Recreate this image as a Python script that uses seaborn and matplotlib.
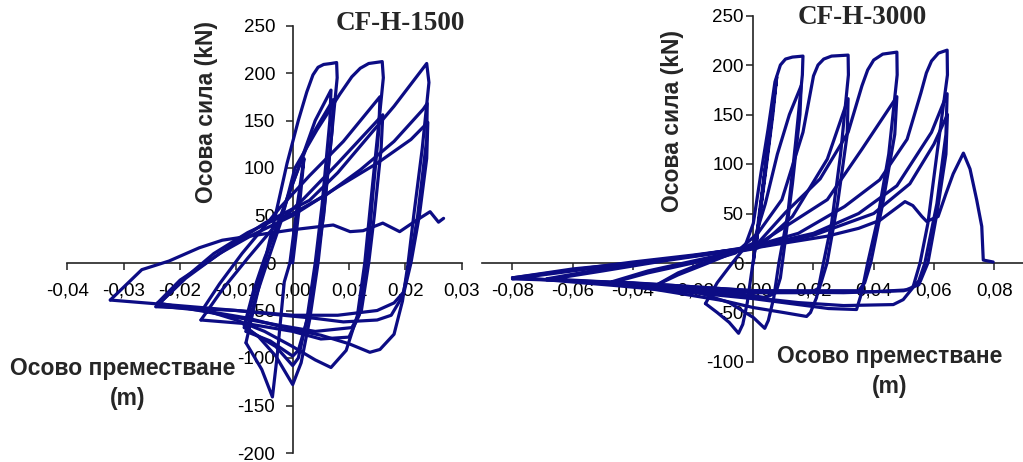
import numpy as np
import pandas as pd
import matplotlib
matplotlib.use("Agg")
import matplotlib.pyplot as plt
import seaborn as sns

# ---------------- CF-H-1500 (displacement m, force kN), cycle by cycle ----------------
a0_x = [0.0, 0.0012, 0.0020, 0.0008, -0.0005, -0.0015, -0.0028, -0.0036, -0.0055, -0.0083]
a0_y = [0, 60, 110, 60, 0, -20, -100, -141, -112, -84]
a1_x = [-0.0083, -0.0070, -0.0050, -0.0030, -0.0010, 0.0010, 0.0025, 0.0036, 0.0045, 0.0055, 0.0068, 0.0078,
        0.0079, 0.0070, 0.0058, 0.0045, 0.0030, 0.0015, 0.0, -0.0030, -0.0060, -0.0086]
a1_y = [-84, -50, 0, 52, 105, 150, 180, 198, 206, 209, 210, 211,
        195, 140, 70, 0, -60, -105, -128, -98, -78, -66]
a2_x = [-0.0086, -0.0070, -0.0050, -0.0020, 0.0010, 0.0040, 0.0068, 0.0066, 0.0052, 0.0040, 0.0025, 0.0010, 0.0,
        -0.0030, -0.0086]
a2_y = [-66, -30, 5, 50, 100, 150, 182, 150, 60, 0, -60, -100, -108, -88, -68]
a3_x = [-0.0086, -0.0065, -0.0040, -0.0005, 0.0030, 0.0072, 0.0070, 0.0055, 0.0042, 0.0028, 0.0010, 0.0,
        -0.0040, -0.0083]
a3_y = [-68, -25, 20, 76, 130, 172, 140, 50, 0, -55, -92, -98, -82, -72]
a4_x = [-0.0083, -0.0065, -0.0040, -0.0020, 0.0004, 0.0043, 0.0084, 0.0105, 0.0120, 0.0135, 0.0159, 0.0161,
        0.0150, 0.0138, 0.0128, 0.0115, 0.0095, 0.0068, 0.0040, 0.0, -0.0050, -0.0100, -0.0160]
a4_y = [-72, -35, 10, 45, 100, 140, 178, 196, 205, 210, 212, 195, 130,
        60, 0, -55, -92, -110, -102, -88, -72, -60, -49]
a5_x = [-0.0160, -0.0130, -0.0090, -0.0055, -0.0023, 0.0030, 0.0090, 0.0155, 0.0153, 0.0142, 0.0132, 0.0118,
        0.0100, 0.0050, 0.0, -0.0080, -0.0163]
a5_y = [-49, -22, 10, 35, 58, 92, 128, 175, 140, 70, 0, -55, -78, -80, -72, -64, -60]
a6_x = [-0.0163, -0.0125, -0.0080, -0.0030, 0.0020, 0.0080, 0.0160, 0.0157, 0.0145, 0.0135, 0.0122, 0.0105,
        0.0040, -0.0020, -0.0120, -0.0240]
a6_y = [-60, -28, 5, 40, 68, 105, 156, 120, 50, 0, -50, -68, -72, -66, -55, -42]
a7_x = [-0.0240, -0.0200, -0.0154, -0.0100, -0.0050, 0.0, 0.0030, 0.0080, 0.0130, 0.0180, 0.0238, 0.0242,
        0.0230, 0.0215, 0.0205, 0.0195, 0.0180, 0.0155, 0.0137, 0.0100, 0.0050, 0.0, -0.0080, -0.0160, -0.0241]
a7_y = [-42, -18, 0, 22, 42, 57, 66, 95, 130, 165, 210, 190,
        120, 50, 0, -40, -75, -91, -94, -85, -76, -70, -58, -50, -45]
a8_x = [-0.0241, -0.0190, -0.0140, -0.0080, -0.0030, 0.0, 0.0060, 0.0120, 0.0180, 0.0232, 0.0239, 0.0238,
        0.0222, 0.0208, 0.0195, 0.0175, 0.0150, 0.0090, 0.0036, 0.0, -0.0100, -0.0243]
a8_y = [-45, -15, 10, 32, 46, 52, 72, 98, 128, 162, 168, 130,
        50, 0, -35, -55, -60, -62, -58, -56, -50, -46]
a9_x = [-0.0243, -0.0190, -0.0130, -0.0070, 0.0, 0.0080, 0.0150, 0.0210, 0.0240, 0.0238, 0.0225, 0.0210,
        0.0198, 0.0180, 0.0150, 0.0080, 0.0, -0.0100, -0.0200, -0.0324]
a9_y = [-46, -16, 10, 30, 50, 80, 105, 130, 148, 110, 50, 0,
        -30, -42, -50, -55, -55, -50, -45, -39]
a10_x = [-0.0324, -0.0268, -0.0220, -0.0166, -0.0125, -0.0046, 0.0, 0.0072, 0.0102, 0.0125, 0.0160, 0.0190,
         0.0220, 0.0244, 0.0259, 0.0268]
a10_y = [-39, -7, 2, 16, 24, 31, 35, 40, 33, 34, 42, 33, 45, 54, 43, 47]

# ---------------- CF-H-3000 ----------------
b0_x = [0.0, 0.0020, 0.0045, 0.0065, 0.0078, 0.0065, 0.0040, 0.0010, 0.0030, 0.0055, 0.0075, 0.0050, 0.0020,
        -0.0020, -0.0035, -0.0049, -0.0080, -0.0120, -0.0159]
b0_y = [0, 50, 110, 160, 188, 150, 90, 20, 70, 130, 182, 120, 45, -40, -62, -71, -60, -50, -41]
b1_x = [-0.0159, -0.0120, -0.0070, -0.0030, 0.0, 0.0025, 0.0049, 0.0072, 0.0090, 0.0107, 0.0130, 0.0165, 0.0163,
        0.0140, 0.0115, 0.0085, 0.0068, 0.0050, 0.0038, 0.0, -0.0080, -0.0180, -0.0320]
b1_y = [-41, -20, 0, 15, 40, 90, 135, 183, 200, 206, 208, 209, 190,
        120, 50, 0, -35, -58, -66, -55, -40, -30, -22]
b2_x = [-0.0320, -0.0250, -0.0150, -0.0070, 0.0, 0.0040, 0.0080, 0.0120, 0.0159, 0.0155, 0.0130, 0.0105,
        0.0090, 0.0075, 0.0040, 0.0, -0.0100, -0.0200, -0.0320]
b2_y = [-22, -12, 0, 10, 20, 60, 110, 150, 179, 150, 80, 20, -15, -30, -35, -33, -29, -26, -22]
b3_x = [-0.0320, -0.0250, -0.0150, -0.0060, 0.0015, 0.0095, 0.0165, 0.0200, 0.0215, 0.0234, 0.0260, 0.0315,
        0.0316, 0.0290, 0.0260, 0.0233, 0.0210, 0.0190, 0.0177, 0.0100, 0.0, -0.0100, -0.0300, -0.0470]
b3_y = [-22, -10, 2, 10, 30, 64, 132, 189, 200, 206, 209, 210,
        190, 110, 40, 0, -35, -50, -54, -50, -45, -38, -28, -20]
b4_x = [-0.0470, -0.0350, -0.0200, -0.0080, 0.0014, 0.0130, 0.0246, 0.0315, 0.0312, 0.0280, 0.0245, 0.0220,
        0.0190, 0.0100, 0.0, -0.0200, -0.0470]
b4_y = [-20, -10, 0, 10, 15, 47, 105, 166, 130, 60, 0, -25, -30, -30, -30, -25, -19]
b5_x = [-0.0470, -0.0350, -0.0200, -0.0080, 0.0, 0.0107, 0.0222, 0.0315, 0.0361, 0.0380, 0.0400, 0.0430, 0.0477,
        0.0478, 0.0450, 0.0410, 0.0380, 0.0360, 0.0343, 0.0250, 0.0150, 0.0, -0.0200, -0.0450, -0.0686]
b5_y = [-19, -8, 2, 10, 15, 51, 85, 132, 179, 195, 205, 211, 213,
        190, 110, 40, 0, -30, -47, -46, -42, -36, -30, -23, -17]
b6_x = [-0.0686, -0.0500, -0.0300, -0.0120, 0.0, 0.0246, 0.0361, 0.0477, 0.0470, 0.0430, 0.0390, 0.0370,
        0.0350, 0.0200, 0.0, -0.0300, -0.0686]
b6_y = [-17, -8, 2, 10, 16, 64, 115, 168, 130, 60, 0, -20, -28, -28, -28, -22, -16]
b7_x = [-0.0686, -0.0500, -0.0300, -0.0120, 0.0, 0.0150, 0.0303, 0.0420, 0.0511, 0.0557, 0.0575, 0.0592, 0.0615,
        0.0644, 0.0645, 0.0610, 0.0580, 0.0554, 0.0530, 0.0498, 0.0465, 0.0300, 0.0150, 0.0, -0.0200,
        -0.0500, -0.0800]
b7_y = [-16, -6, 3, 11, 17, 30, 57, 84, 125, 172, 192, 204, 212,
        215, 190, 110, 40, 0, -25, -37, -42, -43, -40, -35, -28, -20, -15]
b8_x = [-0.0800, -0.0600, -0.0400, -0.0200, -0.0100, 0.0, 0.0200, 0.0350, 0.0477, 0.0592, 0.0644, 0.0640,
        0.0610, 0.0570, 0.0550, 0.0520, 0.0400, 0.0200, 0.0, -0.0400, -0.0800]
b8_y = [-15, -7, 1, 8, 12, 16, 30, 50, 78, 132, 171, 130, 60, 0, -18, -27, -29, -29, -28, -20, -16]
b9_x = [-0.0800, -0.0600, -0.0400, -0.0200, 0.0, 0.0200, 0.0400, 0.0520, 0.0600, 0.0645, 0.0640, 0.0610,
        0.0580, 0.0550, 0.0500, 0.0300, 0.0, -0.0400, -0.0800]
b9_y = [-16, -8, 0, 7, 15, 28, 50, 80, 120, 150, 110, 50, 0, -22, -28, -30, -29, -21, -15]
b10_x = [-0.0800, -0.0600, -0.0400, -0.0200, -0.0100, 0.0, 0.0100, 0.0244, 0.0350, 0.0420, 0.0504, 0.0530,
         0.0560, 0.0576, 0.0614, 0.0640, 0.0664, 0.0698, 0.0720, 0.0742, 0.0759, 0.0764, 0.0797]
b10_y = [-15, -6, 0, 7, 12, 15, 20, 27, 35, 43, 62, 58, 47, 42, 47, 70, 90, 111, 95, 64, 37, 3, 1]

cycles_1500 = [(a0_x, a0_y), (a1_x, a1_y), (a2_x, a2_y), (a3_x, a3_y), (a4_x, a4_y), (a5_x, a5_y),
               (a6_x, a6_y), (a7_x, a7_y), (a8_x, a8_y), (a9_x, a9_y), (a10_x, a10_y)]
cycles_3000 = [(b0_x, b0_y), (b1_x, b1_y), (b2_x, b2_y), (b3_x, b3_y), (b4_x, b4_y), (b5_x, b5_y),
               (b6_x, b6_y), (b7_x, b7_y), (b8_x, b8_y), (b9_x, b9_y), (b10_x, b10_y)]

xticks_1500 = [-0.04, -0.03, -0.02, -0.01, 0.0, 0.01, 0.02, 0.03]
xlabels_1500 = ["-0,04", "-0,03", "-0,02", "-0,01", "0,00", "0,01", "0,02", "0,03"]
yticks_1500 = [-200, -150, -100, -50, 0, 50, 100, 150, 200, 250]
xticks_3000 = [-0.08, -0.06, -0.04, -0.02, 0.0, 0.02, 0.04, 0.06, 0.08]
xlabels_3000 = ["-0,08", "-0,06", "-0,04", "-0,02", "0,00", "0,02", "0,04", "0,06", "0,08"]
yticks_3000 = [-100, -50, 0, 50, 100, 150, 200, 250]


def to_frame(cycles):
    parts = []
    for i, (xs, ys) in enumerate(cycles):
        parts.append(pd.DataFrame({"x": xs, "y": ys, "cycle": i}))
    return pd.concat(parts, ignore_index=True)


sns.set_theme(style="white")
plt.rcParams["font.family"] = ["Liberation Sans", "DejaVu Sans"]

W, H = 1023, 462
fig = plt.figure(figsize=(W / 100, H / 100), dpi=100)
LINE = "#0c0c84"
AXC = "#222222"

ax1 = fig.add_axes([67.5 / W, (H - 453) / H, 394.1 / W, 427.5 / H])
ax2 = fig.add_axes([482.4 / W, (H - 362) / H, 541.8 / W, 346.5 / H])

panels = [
    (ax1, cycles_1500, (-0.04, 0.03), (-200, 250), xticks_1500, xlabels_1500, yticks_1500, 7.5),
    (ax2, cycles_3000, (-0.09, 0.09), (-100, 250), xticks_3000, xlabels_3000, yticks_3000, 2.0),
]
for ax, cyc, xl, yl, xt, xtl, yt, ypad in panels:
    df = to_frame(cyc)
    sns.lineplot(data=df, x="x", y="y", units="cycle", estimator=None, sort=False,
                 color=LINE, lw=2.3, ax=ax, legend=False, zorder=3)
    ax.set_xlim(*xl)
    ax.set_ylim(*yl)
    ax.set_xlabel("")
    ax.set_ylabel("")
    ax.patch.set_alpha(0)
    for s in ["top", "right"]:
        ax.spines[s].set_visible(False)
    for s in ["left", "bottom"]:
        ax.spines[s].set_position(("data", 0))
        ax.spines[s].set_color(AXC)
        ax.spines[s].set_linewidth(1.2)
        ax.spines[s].set_zorder(1)
    ax.set_axisbelow(True)
    ax.set_xticks(xt)
    ax.set_xticklabels(xtl)
    ax.set_yticks(yt)
    ax.set_yticklabels([str(v) for v in yt])
    ax.tick_params(axis="x", direction="out", length=5, width=1.1, color=AXC, pad=9,
                   labelsize=13.5, labelcolor="black", bottom=True)
    ax.tick_params(axis="y", direction="out", length=5, width=1.1, color=AXC, pad=ypad,
                   labelsize=13.5, labelcolor="black", left=True)
    ax.grid(False)


def ftext(px, py, s, **kw):
    fig.text(px / W, 1 - py / H, s, ha="center", va="center", **kw)


ftext(400, 24, "CF-H-1500", family=["Liberation Serif", "DejaVu Serif"], weight="bold", size=19.5)
ftext(862, 17, "CF-H-3000", family=["Liberation Serif", "DejaVu Serif"], weight="bold", size=19.5)

ftext(207, 112, "Осова сила (kN)", weight="bold", size=16.5, rotation=90)
ftext(672, 121, "Осова сила (kN)", weight="bold", size=16.5, rotation=90)
ftext(123, 368, "Осово преместване", weight="bold", size=16.5)
ftext(128, 398, "(m)", weight="bold", size=16.5)
ftext(890, 356, "Осово преместване", weight="bold", size=16.5)
ftext(890, 387, "(m)", weight="bold", size=16.5)

fig.savefig("out.png", dpi=100)
